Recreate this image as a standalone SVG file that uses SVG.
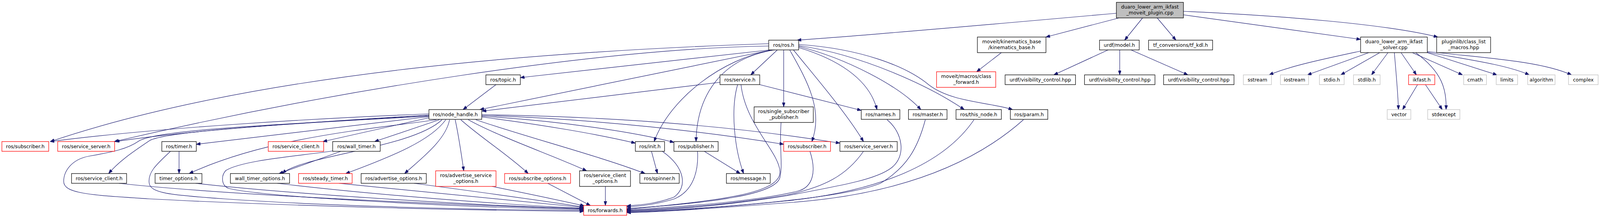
<svg xmlns="http://www.w3.org/2000/svg" width="4271" height="559" viewBox="0 0 4271 559" preserveAspectRatio="none" style="width:100vw;height:100vh;display:block">
<style>
.n rect{fill:#fff;stroke:#000;stroke-width:1.3}
.r rect{stroke:#f00}
.g rect{stroke:#bfbfbf}
.root rect{fill:#bfbfbf}
text{font-family:"DejaVu Sans",sans-serif;font-size:13px;text-anchor:middle;fill:#000}
#edges path{fill:none;stroke:#191970;stroke-width:1.2;marker-end:url(#a)}
</style>
<defs>
<marker id="a" markerUnits="userSpaceOnUse" markerWidth="11" markerHeight="8" refX="11" refY="4" orient="auto"><path d="M0,0 L11,4 L0,8 z" fill="#191970" stroke="#191970" stroke-width="1"/></marker>
</defs>
<rect width="4271" height="559" fill="#fff"/>
<g id="edges">
<path d="M2980,34 C2700,58 2350,88 2128,103"/>
<path d="M2987,46 L2792,95"/>
<path d="M3050,46 L3002,103"/>
<path d="M3089,46 L3139,103"/>
<path d="M3159,38 L3632,101"/>
<path d="M3159,29 C3420,40 3700,62 3838,95"/>
<path d="M2673,135 L2607,184"/>
<path d="M2958,128 L2813,192"/>
<path d="M2989,128 L2989,192"/>
<path d="M3019,128 L3171,192"/>
<path d="M3632,131 C3540,150 3440,170 3388,192"/>
<path d="M3654,135 L3490,192"/>
<path d="M3683,135 L3579,192"/>
<path d="M3705,135 L3661,192"/>
<path d="M3722,135 C3728,200 3732,250 3733,281"/>
<path d="M3740,135 L3781,192"/>
<path d="M3779,135 C3850,185 3862,230 3860,281"/>
<path d="M3770,135 L3904,192"/>
<path d="M3810,135 L3996,192"/>
<path d="M3810,134 C3900,150 4020,165 4082,192"/>
<path d="M3810,132 C3950,148 4110,155 4195,192"/>
<path d="M3784,217 L3744,281"/>
<path d="M3805,217 L3850,281"/>
<path d="M2055,128 L1389,199"/>
<path d="M2075,128 L2004,192"/>
<path d="M2060,128 L1281,281"/>
<path d="M2052,112 C1500,130 700,180 134,363"/>
<path d="M2052,118 C1600,125 900,230 305,363"/>
<path d="M2062,128 C1930,150 1790,250 1746,363"/>
<path d="M2068,128 C1920,150 1860,250 1858,363"/>
<path d="M2092,128 L2092,274"/>
<path d="M2108,128 C2150,200 2200,280 2167,363"/>
<path d="M2118,128 C2170,190 2260,290 2305,363"/>
<path d="M2132,122 C2230,150 2320,200 2341,281"/>
<path d="M2132,119 C2260,150 2400,220 2458,281"/>
<path d="M2132,117 C2300,140 2480,220 2574,281"/>
<path d="M2132,114 C2300,125 2420,170 2480,218 C2540,262 2640,262 2703,281"/>
<path d="M1324,217 L1236,281"/>
<path d="M1922,211 L1287,285"/>
<path d="M2028,217 L2299,283"/>
<path d="M1969,217 C1950,280 1960,380 1985,445"/>
<path d="M1978,217 C1990,320 2080,390 2082,440 C2084,500 1900,515 1673,537"/>
<path d="M1145,292 C800,305 400,330 134,363"/>
<path d="M1145,295 C800,315 500,335 308,363"/>
<path d="M1145,298 C800,315 450,335 400,360 C370,380 320,410 290,445"/>
<path d="M1145,296 C800,318 420,330 370,362 C340,382 300,390 240,400 C190,408 170,440 170,465 C170,495 230,500 400,510 C800,530 1300,540 1558,542"/>
<path d="M1145,299 L524,370"/>
<path d="M1145,302 L862,363"/>
<path d="M1173,307 L1000,363"/>
<path d="M1165,307 C1000,330 720,350 505,445"/>
<path d="M1180,307 C1100,380 800,400 754,445"/>
<path d="M1190,307 C1150,360 1050,400 923,445"/>
<path d="M1200,307 C1190,360 1120,410 1080,445"/>
<path d="M1215,307 C1225,350 1232,400 1238,438"/>
<path d="M1230,307 C1280,350 1360,400 1410,445"/>
<path d="M1250,307 C1330,350 1480,400 1566,438"/>
<path d="M1270,307 C1400,350 1600,400 1722,445"/>
<path d="M1286,300 C1450,320 1600,345 1696,367"/>
<path d="M1286,298 C1500,310 1700,340 1799,365"/>
<path d="M1286,296 C1600,305 1900,340 2092,370"/>
<path d="M1286,294 C1700,300 2000,330 2242,367"/>
<path d="M478,388 L478,445"/>
<path d="M455,388 C420,420 395,440 398,468 C400,495 450,500 600,510 C900,530 1300,538 1558,540"/>
<path d="M910,388 L745,445"/>
<path d="M888,387 C800,400 650,410 603,437 C590,450 590,475 610,483 C700,505 1200,530 1558,538"/>
<path d="M317,470 C600,500 1200,525 1558,536"/>
<path d="M522,470 C800,500 1300,528 1558,535"/>
<path d="M740,470 C1000,500 1350,525 1558,534"/>
<path d="M905,470 C1150,495 1400,515 1558,532"/>
<path d="M1105,470 C1300,495 1450,515 1558,531"/>
<path d="M1313,478 C1400,495 1500,515 1560,528"/>
<path d="M1462,470 L1576,527"/>
<path d="M1616,478 L1616,527"/>
<path d="M1739,388 L1755,445"/>
<path d="M1768,388 C1830,430 1835,480 1800,505 C1760,520 1720,525 1673,528"/>
<path d="M1880,388 L1976,445"/>
<path d="M1862,388 C1865,440 1850,490 1800,510 C1760,522 1720,528 1673,531"/>
<path d="M2085,314 C2080,380 2090,420 2082,455 C2070,500 1900,520 1673,535"/>
<path d="M2162,388 C2180,440 2170,480 2130,490 C2000,520 1800,530 1673,539"/>
<path d="M2305,388 C2260,450 2200,480 2100,500 C1950,525 1800,535 1673,540"/>
<path d="M2368,307 C2410,340 2420,400 2380,430 C2340,460 2250,475 2100,502 C1950,525 1800,538 1673,541"/>
<path d="M2470,307 C2450,380 2420,430 2350,470 C2250,510 1900,535 1673,543"/>
<path d="M2600,307 C2520,420 2350,490 2100,515 C1900,535 1750,543 1673,544"/>
<path d="M2732,307 C2600,420 2400,500 2100,520 C1900,535 1750,544 1673,545"/>
</g>
<g id="root" class="n root"><rect x="2980" y="6" width="179" height="40"/><text x="3069.5" y="22.5">duaro_lower_arm_ikfast</text><text x="3069.5" y="37">_moveit_plugin.cpp</text></g>
<g id="ros_h" class="n"><rect x="2052" y="103" width="80" height="25"/><text x="2092" y="120">ros/ros.h</text></g>
<g id="kin" class="n"><rect x="2609" y="95" width="183" height="40"/><text x="2700.5" y="111.5">moveit/kinematics_base</text><text x="2700.5" y="126">/kinematics_base.h</text></g>
<g id="urdf" class="n"><rect x="2935" y="103" width="106" height="25"/><text x="2988" y="120">urdf/model.h</text></g>
<g id="tfkdl" class="n"><rect x="3066" y="103" width="171" height="25"/><text x="3151.5" y="120">tf_conversions/tf_kdl.h</text></g>
<g id="solver" class="n"><rect x="3632" y="95" width="178" height="40"/><text x="3721" y="111.5">duaro_lower_arm_ikfast</text><text x="3721" y="126">_solver.cpp</text></g>
<g id="plugin" class="n"><rect x="3835" y="95" width="144" height="40"/><text x="3907" y="111.5">pluginlib/class_list</text><text x="3907" y="126">_macros.hpp</text></g>
<g id="topic" class="n"><rect x="1297" y="192" width="92" height="25"/><text x="1343" y="209">ros/topic.h</text></g>
<g id="service" class="n"><rect x="1922" y="192" width="106" height="25"/><text x="1975" y="209">ros/service.h</text></g>
<g id="cfwd" class="n r"><rect x="2500" y="184" width="158" height="40"/><text x="2579" y="200.5">moveit/macros/class</text><text x="2579" y="215">_forward.h</text></g>
<g id="vis1" class="n"><rect x="2683" y="192" width="188" height="25"/><text x="2777" y="209">urdf/visibility_control.hpp</text></g>
<g id="vis2" class="n"><rect x="2895" y="192" width="188" height="25"/><text x="2989" y="209">urdf/visibility_control.hpp</text></g>
<g id="vis3" class="n"><rect x="3106" y="192" width="188" height="25"/><text x="3200" y="209">urdf/visibility_control.hpp</text></g>
<g id="sstream" class="n g"><rect x="3319" y="192" width="75" height="25"/><text x="3356.5" y="209">sstream</text></g>
<g id="iostream" class="n g"><rect x="3418" y="192" width="75" height="25"/><text x="3455.5" y="209">iostream</text></g>
<g id="stdio" class="n g"><rect x="3522" y="192" width="66" height="25"/><text x="3555" y="209">stdio.h</text></g>
<g id="stdlib" class="n g"><rect x="3613" y="192" width="71" height="25"/><text x="3648.5" y="209">stdlib.h</text></g>
<g id="ikfast" class="n r"><rect x="3760" y="192" width="70" height="25"/><text x="3795" y="209">ikfast.h</text></g>
<g id="cmath" class="n g"><rect x="3907" y="192" width="61" height="25"/><text x="3937.5" y="209">cmath</text></g>
<g id="limits" class="n g"><rect x="3994" y="192" width="57" height="25"/><text x="4022.5" y="209">limits</text></g>
<g id="algorithm" class="n g"><rect x="4078" y="192" width="73" height="25"/><text x="4114.5" y="209">algorithm</text></g>
<g id="complex" class="n g"><rect x="4187" y="192" width="79" height="25"/><text x="4226.5" y="209">complex</text></g>
<g id="nh" class="n"><rect x="1145" y="281" width="141" height="25"/><text x="1215.5" y="298">ros/node_handle.h</text></g>
<g id="ssp" class="n"><rect x="2013" y="274" width="158" height="40"/><text x="2092" y="290.5">ros/single_subscriber</text><text x="2092" y="305">_publisher.h</text></g>
<g id="names" class="n"><rect x="2299" y="281" width="103" height="25"/><text x="2350.5" y="298">ros/names.h</text></g>
<g id="master" class="n"><rect x="2425" y="281" width="103" height="25"/><text x="2476.5" y="298">ros/master.h</text></g>
<g id="thisnode" class="n"><rect x="2552" y="281" width="121" height="25"/><text x="2612.5" y="298">ros/this_node.h</text></g>
<g id="param" class="n"><rect x="2697" y="281" width="100" height="25"/><text x="2747" y="298">ros/param.h</text></g>
<g id="vector" class="n g"><rect x="3703" y="281" width="63" height="25"/><text x="3734.5" y="298">vector</text></g>
<g id="stdexcept" class="n g"><rect x="3811" y="281" width="86" height="25"/><text x="3854" y="298">stdexcept</text></g>
<g id="sub1" class="n r"><rect x="5" y="363" width="125" height="25"/><text x="67.5" y="380">ros/subscriber.h</text></g>
<g id="ss1" class="n r"><rect x="154" y="363" width="152" height="25"/><text x="230" y="380">ros/service_server.h</text></g>
<g id="timer" class="n"><rect x="432" y="363" width="92" height="25"/><text x="478" y="380">ros/timer.h</text></g>
<g id="scred" class="n r"><rect x="716" y="363" width="148" height="25"/><text x="790" y="380">ros/service_client.h</text></g>
<g id="wtimer" class="n"><rect x="888" y="363" width="127" height="25"/><text x="951.5" y="380">ros/wall_timer.h</text></g>
<g id="init" class="n"><rect x="1696" y="363" width="78" height="25"/><text x="1735" y="380">ros/init.h</text></g>
<g id="pub" class="n"><rect x="1799" y="363" width="118" height="25"/><text x="1858" y="380">ros/publisher.h</text></g>
<g id="sub2" class="n r"><rect x="2092" y="363" width="125" height="25"/><text x="2154.5" y="380">ros/subscriber.h</text></g>
<g id="ss2" class="n"><rect x="2242" y="363" width="153" height="25"/><text x="2318.5" y="380">ros/service_server.h</text></g>
<g id="sc" class="n"><rect x="191" y="445" width="147" height="25"/><text x="264.5" y="462">ros/service_client.h</text></g>
<g id="topt" class="n"><rect x="414" y="445" width="125" height="25"/><text x="476.5" y="462">timer_options.h</text></g>
<g id="wtopt" class="n"><rect x="615" y="445" width="158" height="25"/><text x="694" y="462">wall_timer_options.h</text></g>
<g id="steady" class="n r"><rect x="797" y="445" width="143" height="25"/><text x="868.5" y="462">ros/steady_timer.h</text></g>
<g id="advopt" class="n"><rect x="964" y="445" width="174" height="25"/><text x="1051" y="462">ros/advertise_options.h</text></g>
<g id="advsvc" class="n r"><rect x="1163" y="438" width="161" height="40"/><text x="1243.5" y="454.5">ros/advertise_service</text><text x="1243.5" y="469">_options.h</text></g>
<g id="subopt" class="n r"><rect x="1347" y="445" width="176" height="25"/><text x="1435" y="462">ros/subscribe_options.h</text></g>
<g id="scopt" class="n"><rect x="1547" y="438" width="136" height="40"/><text x="1615" y="454.5">ros/service_client</text><text x="1615" y="469">_options.h</text></g>
<g id="spinner" class="n"><rect x="1708" y="445" width="105" height="25"/><text x="1760.5" y="462">ros/spinner.h</text></g>
<g id="message" class="n"><rect x="1939" y="445" width="117" height="25"/><text x="1997.5" y="462">ros/message.h</text></g>
<g id="fwd" class="n r"><rect x="1558" y="527" width="115" height="25"/><text x="1615.5" y="544">ros/forwards.h</text></g>
</svg>
